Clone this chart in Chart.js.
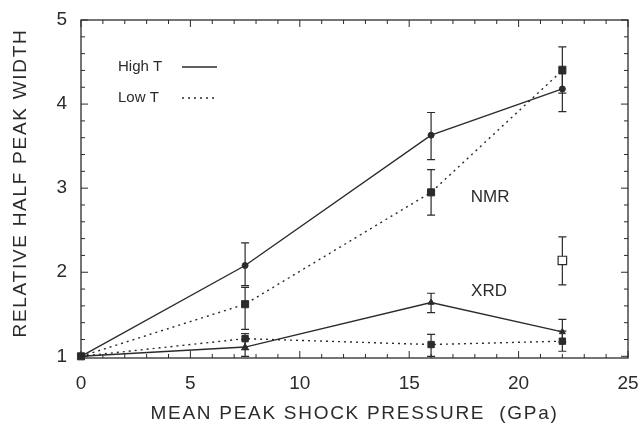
<!DOCTYPE html>
<html>
<head>
<meta charset="utf-8">
<script src="https://cdn.jsdelivr.net/npm/chart.js@4.4.1/dist/chart.umd.min.js"></script>
<style>
  html, body { margin: 0; padding: 0; background: #fff; }
  #wrap { width: 639px; height: 432px; }
</style>
</head>
<body>
<div id="wrap"><canvas id="c" width="639" height="432"></canvas></div>
<script>
// pressures in GPa
const pressure = [0, 7.5, 16, 22];

// NMR
const nmrHigh = [1, 2.08, 3.63, 4.18];
const nmrHighLo = [null, 1.84, 3.34, 3.91];
const nmrHighHi = [null, 2.35, 3.90, 4.45];
const nmrLow = [1, 1.62, 2.95, 4.40];
const nmrLowLo = [null, 1.32, 2.68, 4.13];
const nmrLowHi = [null, 1.82, 3.22, 4.68];

// XRD
const xrdHigh = [1, 1.11, 1.64, 1.29];
const xrdHighLo = [null, 1.00, 1.52, 1.17];
const xrdHighHi = [null, 1.20, 1.75, 1.44];
const xrdLow = [1, 1.21, 1.14, 1.18];
const xrdLowLo = [null, 1.08, 1.00, 1.06];
const xrdLowHi = [null, 1.27, 1.26, 1.30];

// single open point
const openX = [22];
const openY = [2.14];
const openLo = [1.85];
const openHi = [2.42];

const xTicks = [0, 5, 10, 15, 20, 25];
const yTicks = [1, 2, 3, 4, 5];

const ink = "#2b2b2b";
const font = "Liberation Sans";

const pts = (xs, ys) => xs.map((x, i) => ({ x: x, y: ys[i] }));

function ds(label, ys, lo, hi, dashed, style, r) {
  return {
    label,
    data: pts(pressure, ys),
    errLo: lo,
    errHi: hi,
    showLine: true,
    clip: false,
    borderColor: ink,
    borderWidth: 1.4,
    borderDash: dashed ? [2, 4] : [],
    pointStyle: style,
    pointRadius: ys.map((v, i) => (i === 0 ? 0 : r)),
    pointBackgroundColor: ink,
    pointBorderColor: ink,
    pointBorderWidth: 1,
    tension: 0,
  };
}

const errorBars = {
  id: "errorBars",
  beforeDatasetsDraw(chart) {
    const { ctx, scales: { x, y } } = chart;
    ctx.save();
    ctx.strokeStyle = ink;
    ctx.lineWidth = 1.2;
    chart.data.datasets.forEach((d) => {
      if (!d.errLo) return;
      d.data.forEach((p, i) => {
        if (d.errLo[i] == null) return;
        const px = x.getPixelForValue(p.x);
        const y1 = y.getPixelForValue(d.errLo[i]);
        const y2 = y.getPixelForValue(d.errHi[i]);
        ctx.beginPath();
        ctx.moveTo(px, y1); ctx.lineTo(px, y2);
        ctx.moveTo(px - 4, y1); ctx.lineTo(px + 4, y1);
        ctx.moveTo(px - 4, y2); ctx.lineTo(px + 4, y2);
        ctx.stroke();
      });
    });
    ctx.restore();
  },
};

const frame = {
  id: "frame",
  afterDraw(chart) {
    const { ctx, chartArea: a, scales: { x, y } } = chart;
    ctx.save();
    ctx.strokeStyle = ink;
    ctx.lineWidth = 1.3;
    ctx.strokeRect(a.left, a.top, a.right - a.left, a.bottom - a.top);
    ctx.lineWidth = 1;
    ctx.beginPath();
    for (let v = 0; v <= 25; v++) {
      const px = x.getPixelForValue(v);
      const len = v % 5 === 0 ? 7 : 4;
      ctx.moveTo(px, a.bottom); ctx.lineTo(px, a.bottom - len);
      ctx.moveTo(px, a.top); ctx.lineTo(px, a.top + len);
    }
    for (let k = 0; k <= 20; k++) {
      const v = 1 + k * 0.2;
      const py = y.getPixelForValue(v);
      const len = k % 5 === 0 ? 7 : 4;
      ctx.moveTo(a.left, py); ctx.lineTo(a.left + len, py);
      ctx.moveTo(a.right, py); ctx.lineTo(a.right - len, py);
    }
    ctx.stroke();

    // axis titles
    ctx.fillStyle = ink;
    ctx.font = "19px '" + font + "'";
    ctx.textAlign = "center";
    ctx.textBaseline = "middle";
    const xt = "MEAN PEAK SHOCK PRESSURE  (GPa)";
    let w = ctx.measureText(xt).width;
    ctx.letterSpacing = ((408 - w) / xt.length) + "px";
    ctx.fillText(xt, (a.left + a.right) / 2, 414);
    ctx.letterSpacing = "0px";
    const yt = "RELATIVE HALF PEAK WIDTH";
    w = ctx.measureText(yt).width;
    ctx.save();
    ctx.translate(21, (a.top + a.bottom) / 2 - 6);
    ctx.rotate(-Math.PI / 2);
    ctx.letterSpacing = ((309 - w) / yt.length) + "px";
    ctx.fillText(yt, 0, 0);
    ctx.restore();

    // legend
    ctx.font = "15px '" + font + "'";
    ctx.textAlign = "left";
    ctx.fillText("High T", 118, 67);
    ctx.fillText("Low T", 118, 98);
    ctx.lineWidth = 1.4;
    ctx.beginPath();
    ctx.moveTo(182, 67); ctx.lineTo(217, 67);
    ctx.stroke();
    ctx.setLineDash([2, 4]);
    ctx.beginPath();
    ctx.moveTo(182, 98); ctx.lineTo(217, 98);
    ctx.stroke();
    ctx.setLineDash([]);

    // series labels
    ctx.font = "17px '" + font + "'";
    ctx.textAlign = "center";
    ctx.fillText("NMR", x.getPixelForValue(18.7), y.getPixelForValue(2.89));
    ctx.fillText("XRD", x.getPixelForValue(18.65), y.getPixelForValue(1.77));
    ctx.restore();
  },
};

new Chart(document.getElementById("c"), {
  type: "scatter",
  data: {
    datasets: [
      ds("NMR High T", nmrHigh, nmrHighLo, nmrHighHi, false, "circle", 3),
      ds("NMR Low T", nmrLow, nmrLowLo, nmrLowHi, true, "rect", 5),
      ds("XRD High T", xrdHigh, xrdHighLo, xrdHighHi, false, "triangle", 3.5),
      ds("XRD Low T", xrdLow, xrdLowLo, xrdLowHi, true, "rect", 4.5),
      {
        label: "open",
        data: pts(openX, openY),
        errLo: openLo,
        errHi: openHi,
        showLine: false,
        pointStyle: "rect",
        pointRadius: 6,
        pointBackgroundColor: "#fff",
        pointBorderColor: ink,
        pointBorderWidth: 1.2,
      },
      {
        label: "origin",
        data: [{ x: 0, y: 1 }],
        showLine: false,
        clip: false,
        pointStyle: "rect",
        pointRadius: 5,
        pointBackgroundColor: ink,
        pointBorderColor: ink,
      },
    ],
  },
  options: {
    responsive: false,
    animation: false,
    devicePixelRatio: 1,
    layout: { padding: { top: 20, right: 11, left: 0, bottom: 0 } },
    plugins: { legend: { display: false }, tooltip: { enabled: false } },
    scales: {
      x: {
        type: "linear",
        min: 0,
        max: 25,
        afterBuildTicks: (s) => { s.ticks = xTicks.map((v) => ({ value: v })); },
        afterFit: (s) => { s.height = 74; s.paddingLeft = 0; s.paddingRight = 0; },
        grid: { display: false },
        border: { display: false },
        ticks: { color: ink, font: { family: font, size: 19 }, padding: 6 },
      },
      y: {
        type: "linear",
        min: 0.98,
        max: 5,
        afterBuildTicks: (s) => { s.ticks = yTicks.map((v) => ({ value: v })); },
        afterFit: (s) => { s.width = 81; s.paddingTop = 0; s.paddingBottom = 0; },
        grid: { display: false },
        border: { display: false },
        ticks: { color: ink, font: { family: font, size: 19 }, padding: 6 },
      },
    },
  },
  plugins: [errorBars, frame],
});
</script>
</body>
</html>
